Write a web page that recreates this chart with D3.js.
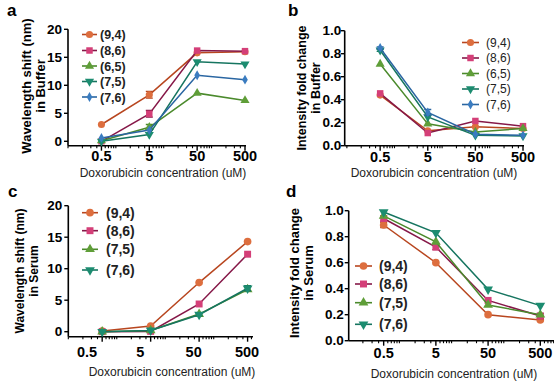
<!DOCTYPE html>
<html>
<head>
<meta charset="utf-8">
<script src="https://cdn.jsdelivr.net/npm/d3@7"></script>
<style>
  body { margin: 0; background: #fff; }
  svg { display: block; font-family: Arial, "Liberation Sans", sans-serif; }
</style>
</head>
<body>
<svg id="chart" width="554" height="381"></svg>
<script>
// concentrations (uM) and their tick labels
var CONC = [0.5, 5, 50, 500];
var CONC_LABELS = ['0.5', '5', '50', '500'];

// chiralities
var BUFFER_SERIES = ['(9,4)', '(8,6)', '(6,5)', '(7,5)', '(7,6)'];
var SERUM_SERIES = ['(9,4)', '(8,6)', '(7,5)', '(7,6)'];

// a: wavelength shift in buffer (nm)
var SHIFT_BUFFER = [
  [3.0, 8.3, 15.8, 16.0],
  [0.0, 4.9, 16.2, 16.1],
  [0.1, 2.5, 8.6, 7.3],
  [0.0, 1.2, 14.2, 13.8],
  [0.6, 2.0, 11.8, 11.0]
];
var SHIFT_BUFFER_ERR = [
  [0, 0.6, 0, 0],
  [0, 0.6, 0, 0],
  [0, 0.5, 0, 0],
  [0, 0, 0, 0],
  [0, 0, 0, 0]
];
// b: intensity fold change in buffer
var INT_BUFFER = [
  [0.44, 0.13, 0.165, 0.15],
  [0.455, 0.11, 0.215, 0.17],
  [0.71, 0.19, 0.12, 0.15],
  [0.83, 0.25, 0.09, 0.085],
  [0.85, 0.29, 0.10, 0.09]
];
var INT_BUFFER_ERR = [
  [0, 0, 0, 0],
  [0, 0, 0, 0],
  [0, 0, 0, 0],
  [0.01, 0, 0, 0],
  [0.01, 0.025, 0, 0]
];
// c: wavelength shift in serum (nm)
var SHIFT_SERUM = [
  [0.1, 0.9, 7.8, 14.3],
  [0.0, 0.05, 4.4, 12.3],
  [0.0, 0.2, 2.8, 6.7],
  [0.0, 0.2, 2.7, 6.9]
];
var SHIFT_SERUM_ERR = [
  [0, 0, 0, 0],
  [0, 0, 0, 0],
  [0, 0, 0, 0],
  [0, 0, 0.2, 0.4]
];
// d: intensity fold change in serum
var INT_SERUM = [
  [0.89, 0.60, 0.20, 0.16],
  [0.94, 0.72, 0.31, 0.19],
  [0.96, 0.76, 0.275, 0.20],
  [0.99, 0.83, 0.395, 0.27]
];
var INT_SERUM_ERR = [
  [0.02, 0, 0, 0],
  [0.02, 0.02, 0, 0.02],
  [0, 0, 0, 0],
  [0, 0, 0, 0]
];

var STYLE = {
  '(9,4)': { line: '#b8461f', fill: '#dd6e3e', sym: d3.symbolCircle, size: 40 },
  '(8,6)': { line: '#861848', fill: '#d43f78', sym: d3.symbolSquare, size: 42 },
  '(6,5)': { line: '#4b8a2c', fill: '#5f9e38', sym: d3.symbolTriangle, size: 36 },
  '(7,5)': { line: '#167560', fill: '#1c8c70', sym: d3.symbolTriangle, size: 36, down: true },
  '(7,6)': { line: '#2a66a2', fill: '#3a7cc0', sym: d3.symbolDiamond, size: 28 }
};
// serum panels reuse green / teal for (7,5) / (7,6)
var STYLE_SERUM = {
  '(9,4)': STYLE['(9,4)'],
  '(8,6)': STYLE['(8,6)'],
  '(7,5)': STYLE['(6,5)'],
  '(7,6)': STYLE['(7,5)']
};

var svg = d3.select('#chart');

function drawPanel(p) {
  var g = svg.append('g');
  var x = d3.scaleLog().domain([p.xMin, 500]).range([p.left, p.right]);
  var y = d3.scaleLinear().domain([0, p.yMax]).range([p.y0, p.yTop]);
  var lx = p.labelScale || x;

  // y axis
  g.append('line')
    .attr('x1', p.left).attr('x2', p.left)
    .attr('y1', p.yTop).attr('y2', p.axisY)
    .attr('stroke', '#000').attr('stroke-width', 1.6);
  g.selectAll('.ytick').data(p.yTicks).enter().append('line')
    .attr('x1', p.left - 4).attr('x2', p.left)
    .attr('y1', function(d) { return y(d); })
    .attr('y2', function(d) { return y(d); })
    .attr('stroke', '#000').attr('stroke-width', 1.4);
  g.selectAll('.ylab').data(p.yTicks).enter().append('text')
    .attr('x', p.left - p.yLabGap)
    .attr('y', function(d) { return y(d) + 4.5; })
    .attr('text-anchor', 'end')
    .attr('font-size', 13.5).attr('font-weight', 'bold')
    .text(p.yFmt);

  // x axis with log minor ticks
  g.append('line')
    .attr('x1', p.left).attr('x2', p.axisEnd)
    .attr('y1', p.axisY).attr('y2', p.axisY)
    .attr('stroke', '#000').attr('stroke-width', 1.6);
  var minors = [];
  [0.1, 1, 10, 100].forEach(function(dec) {
    for (var k = 1; k < 10; k++) {
      var v = k * dec;
      if (v >= p.xMin && x(v) <= p.axisEnd && CONC.indexOf(v) < 0) minors.push(v);
    }
  });
  g.selectAll('.minor').data(minors).enter().append('line')
    .attr('x1', function(d) { return x(d); })
    .attr('x2', function(d) { return x(d); })
    .attr('y1', p.axisY).attr('y2', p.axisY + 2.5)
    .attr('stroke', '#000').attr('stroke-width', 1.1);
  g.selectAll('.major').data(CONC).enter().append('line')
    .attr('x1', function(d) { return x(d); })
    .attr('x2', function(d) { return x(d); })
    .attr('y1', p.axisY).attr('y2', p.axisY + 5)
    .attr('stroke', '#000').attr('stroke-width', 1.4);
  g.selectAll('.xlab').data(CONC).enter().append('text')
    .attr('x', function(d) { return lx(d); })
    .attr('y', p.tickLabelY)
    .attr('text-anchor', 'middle')
    .attr('font-size', 14.5).attr('font-weight', 'bold')
    .text(function(d, i) { return CONC_LABELS[i]; });

  // axis titles
  g.append('text')
    .attr('x', p.xTitleX).attr('y', p.xTitleY)
    .attr('text-anchor', 'middle').attr('font-size', 12).attr('fill', '#222')
    .text('Doxorubicin concentration (uM)');
  var yt = g.append('text')
    .attr('transform', 'translate(' + p.yTitleX + ',' + p.yTitleY + ') rotate(-90)')
    .attr('text-anchor', 'middle')
    .attr('font-size', p.yTitleSize).attr('font-weight', 'bold');
  yt.append('tspan').attr('x', 0).attr('dy', 0).text(p.yTitle[0]);
  yt.append('tspan').attr('x', 0).attr('dy', 14).text(p.yTitle[1]);

  // panel letter
  g.append('text')
    .attr('x', p.letterX).attr('y', p.letterY)
    .attr('font-size', 17).attr('font-weight', 'bold')
    .text(p.letter);

  // series
  var line = d3.line()
    .x(function(d, i) { return x(CONC[i]); })
    .y(function(d) { return y(d); });

  p.values.forEach(function(vals, si) {
    var st = p.styles[p.names[si]];
    var errs = p.errors[si];
    g.append('path')
      .attr('d', line(vals))
      .attr('fill', 'none')
      .attr('stroke', st.line)
      .attr('stroke-width', 1.5);
    vals.forEach(function(v, i) {
      if (!errs[i]) return;
      var cx = x(CONC[i]);
      var eb = d3.path();
      eb.moveTo(cx, y(v - errs[i])); eb.lineTo(cx, y(v + errs[i]));
      eb.moveTo(cx - 3.5, y(v - errs[i])); eb.lineTo(cx + 3.5, y(v - errs[i]));
      eb.moveTo(cx - 3.5, y(v + errs[i])); eb.lineTo(cx + 3.5, y(v + errs[i]));
      g.append('path').attr('d', eb.toString())
        .attr('stroke', st.line).attr('stroke-width', 1.3).attr('fill', 'none');
    });
    g.selectAll('.m' + si).data(vals).enter().append('path')
      .attr('d', d3.symbol().type(st.sym).size(st.size * p.mScale))
      .attr('transform', function(d, i) {
        return 'translate(' + x(CONC[i]) + ',' + y(d) + ')' + (st.down ? ' rotate(180)' : '');
      })
      .attr('fill', st.fill);
  });

  // legend
  p.names.forEach(function(name, i) {
    var st = p.styles[name];
    var ly = p.legendY[i];
    g.append('line')
      .attr('x1', p.legendX[0]).attr('x2', p.legendX[1])
      .attr('y1', ly).attr('y2', ly)
      .attr('stroke', st.line).attr('stroke-width', 1.6);
    g.append('path')
      .attr('d', d3.symbol().type(st.sym).size(st.size * p.mScale))
      .attr('transform', 'translate(' + (p.legendX[0] + p.legendX[1]) / 2 + ',' + ly + ')' + (st.down ? ' rotate(180)' : ''))
      .attr('fill', st.fill);
    g.append('text')
      .attr('x', p.legendX[2]).attr('y', ly + p.legendSize * 0.36)
      .attr('font-size', p.legendSize).attr('font-weight', p.legendWeight)
      .attr('fill', '#222')
      .text(name);
  });
}

var fmtInt = function(d) { return d3.format('d')(d); };
var fmt1 = function(d) { return d3.format('.1f')(d); };

drawPanel({
  letter: 'a', letterX: 7, letterY: 16,
  left: 68, right: 245, axisEnd: 246, xMin: 0.1,
  y0: 141.3, yTop: 29.3, yMax: 20, axisY: 145.7,
  yTicks: [0, 5, 10, 15, 20], yFmt: fmtInt, yLabGap: 6,
  tickLabelY: 161, xTitleX: 163, xTitleY: 177,
  yTitle: ['Wavelength shift (nm)', 'in Buffer'], yTitleX: 31, yTitleY: 86, yTitleSize: 13,
  names: BUFFER_SERIES, values: SHIFT_BUFFER, errors: SHIFT_BUFFER_ERR, styles: STYLE, mScale: 1,
  legendX: [82, 97, 100], legendY: [34.5, 50.5, 66, 81.5, 97], legendSize: 12.5, legendWeight: 'bold'
});

drawPanel({
  letter: 'b', letterX: 288, letterY: 16,
  left: 344.7, right: 523, axisEnd: 524, xMin: 0.09,
  y0: 145.7, yTop: 30.7, yMax: 1, axisY: 145.7,
  yTicks: [0, 0.2, 0.4, 0.6, 0.8, 1.0], yFmt: fmt1, yLabGap: 3.5,
  tickLabelY: 162, xTitleX: 434, xTitleY: 177,
  yTitle: ['Intensity fold change', 'in Buffer'], yTitleX: 306, yTitleY: 88, yTitleSize: 12.5,
  names: BUFFER_SERIES, values: INT_BUFFER, errors: INT_BUFFER_ERR, styles: STYLE, mScale: 1,
  legendX: [462, 479, 486], legendY: [42.5, 58, 73.5, 89, 104.5], legendSize: 12, legendWeight: 'normal'
});

drawPanel({
  letter: 'c', letterX: 8, letterY: 197,
  left: 68.3, right: 247.6, axisEnd: 253, xMin: 0.1,
  labelScale: d3.scaleLog().domain([0.5, 500]).range([87, 247]),
  y0: 331.7, yTop: 205.7, yMax: 20, axisY: 336.7,
  yTicks: [0, 5, 10, 15, 20], yFmt: fmtInt, yLabGap: 6,
  tickLabelY: 357, xTitleX: 172, xTitleY: 376,
  yTitle: ['Wavelength shift (nm)', 'in Serum'], yTitleX: 24, yTitleY: 271, yTitleSize: 12,
  names: SERUM_SERIES, values: SHIFT_SERUM, errors: SHIFT_SERUM_ERR, styles: STYLE_SERUM, mScale: 1.15,
  legendX: [82, 98, 106], legendY: [212.7, 230.7, 249.3, 270], legendSize: 14, legendWeight: 'bold'
});

drawPanel({
  letter: 'd', letterX: 286, letterY: 197,
  left: 348.7, right: 540.3, axisEnd: 554, xMin: 0.107,
  y0: 340.7, yTop: 210.7, yMax: 1, axisY: 340.7,
  yTicks: [0, 0.2, 0.4, 0.6, 0.8, 1.0], yFmt: fmt1, yLabGap: 5,
  tickLabelY: 358, xTitleX: 454, xTitleY: 378,
  yTitle: ['Intensity fold change', 'in Serum'], yTitleX: 299, yTitleY: 273, yTitleSize: 13,
  names: SERUM_SERIES, values: INT_SERUM, errors: INT_SERUM_ERR, styles: STYLE_SERUM, mScale: 1.15,
  legendX: [355, 372, 379], legendY: [266, 284, 302.7, 324.3], legendSize: 14, legendWeight: 'bold'
});
</script>
</body>
</html>
